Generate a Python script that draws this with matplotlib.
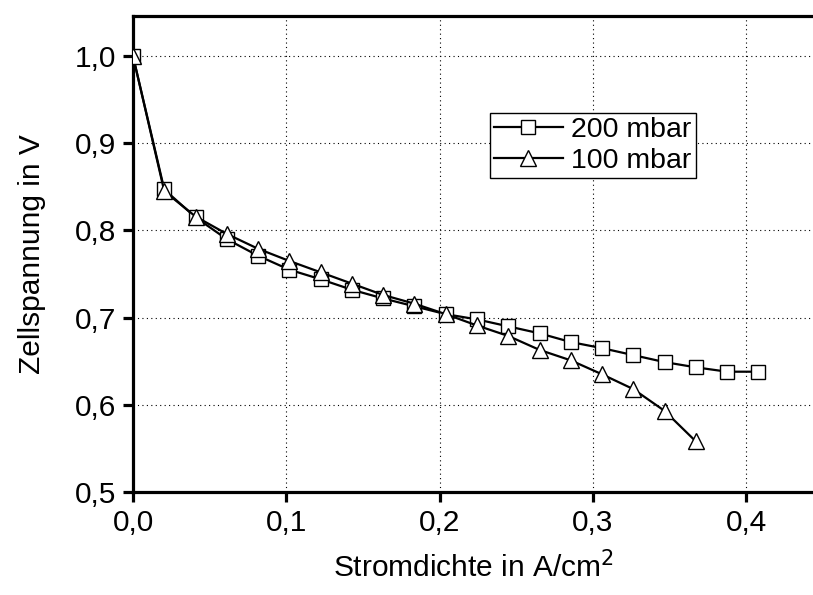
import numpy as np
import matplotlib
matplotlib.use("Agg")
import matplotlib.pyplot as plt
from matplotlib.ticker import FuncFormatter

plt.rcParams['font.family'] = ['Liberation Sans', 'DejaVu Sans']

# ------------------------------- Datos -------------------------------
j_200 = [0.0, 0.0204, 0.0408, 0.0612, 0.0816, 0.102, 0.1224, 0.1428, 0.1632, 0.1836,
         0.204, 0.2244, 0.2448, 0.2652, 0.2856, 0.306, 0.3264, 0.3468, 0.3672, 0.3876, 0.408]
U_200 = [1.000, 0.847, 0.815, 0.790, 0.771, 0.755, 0.744, 0.732, 0.722, 0.713,
         0.704, 0.698, 0.690, 0.682, 0.672, 0.665, 0.657, 0.649, 0.643, 0.638, 0.638]

j_100 = [0.0, 0.0204, 0.0408, 0.0612, 0.0816, 0.102, 0.1224, 0.1428, 0.1632, 0.1836,
         0.204, 0.2244, 0.2448, 0.2652, 0.2856, 0.306, 0.3264, 0.3468, 0.3672]
U_100 = [1.000, 0.845, 0.816, 0.796, 0.779, 0.765, 0.752, 0.739, 0.726, 0.716,
         0.704, 0.691, 0.679, 0.663, 0.651, 0.635, 0.618, 0.593, 0.558]

lbl_200 = '200 mbar'
lbl_100 = '100 mbar'
xticks = [0.0, 0.1, 0.2, 0.3, 0.4]
yticks = [0.5, 0.6, 0.7, 0.8, 0.9, 1.0]

# ------------------------------- Figura -------------------------------
fig = plt.figure(figsize=(8.13, 5.95), dpi=100)
ax = fig.add_axes([0.1636, 0.1731, 0.8364, 0.80])

ax.plot(j_200, U_200, '-', color='black', linewidth=1.6, marker='s', markersize=9.5,
        markerfacecolor='white', markeredgecolor='black', markeredgewidth=1.0,
        label=lbl_200, zorder=3)
ax.plot(j_100, U_100, '-', color='black', linewidth=1.6, marker='^', markersize=11.5,
        markerfacecolor='white', markeredgecolor='black', markeredgewidth=1.0,
        label=lbl_100, zorder=4)

ax.set_xlim(0.0, 0.4436)
ax.set_ylim(0.5, 1.046)
ax.set_xticks(xticks)
ax.set_yticks(yticks)
fmt = FuncFormatter(lambda v, p: ('%.1f' % v).replace('.', ','))
ax.xaxis.set_major_formatter(fmt)
ax.yaxis.set_major_formatter(fmt)

ax.grid(True, linestyle=(0, (1, 3)), color='black', linewidth=0.8)
ax.set_axisbelow(True)

for s in ['left', 'bottom', 'top']:
    ax.spines[s].set_linewidth(2.3)
ax.spines['right'].set_visible(False)
ax.tick_params(direction='out', length=7, width=2.3, labelsize=21.5, pad=5)

ax.set_xlabel('Stromdichte in A/cm$^2$', fontsize=21.5, labelpad=10)
ax.set_ylabel('Zellspannung in V', fontsize=21.5, labelpad=21)

leg = ax.legend(loc='upper left', bbox_to_anchor=(0.525, 0.796), fontsize=20.5,
                frameon=True, fancybox=False, edgecolor='black', framealpha=1,
                handlelength=2.4, borderpad=0.15, labelspacing=0.15,
                handletextpad=0.3, borderaxespad=0)
leg.get_frame().set_linewidth(1.0)

plt.savefig('out.png', dpi=100)
